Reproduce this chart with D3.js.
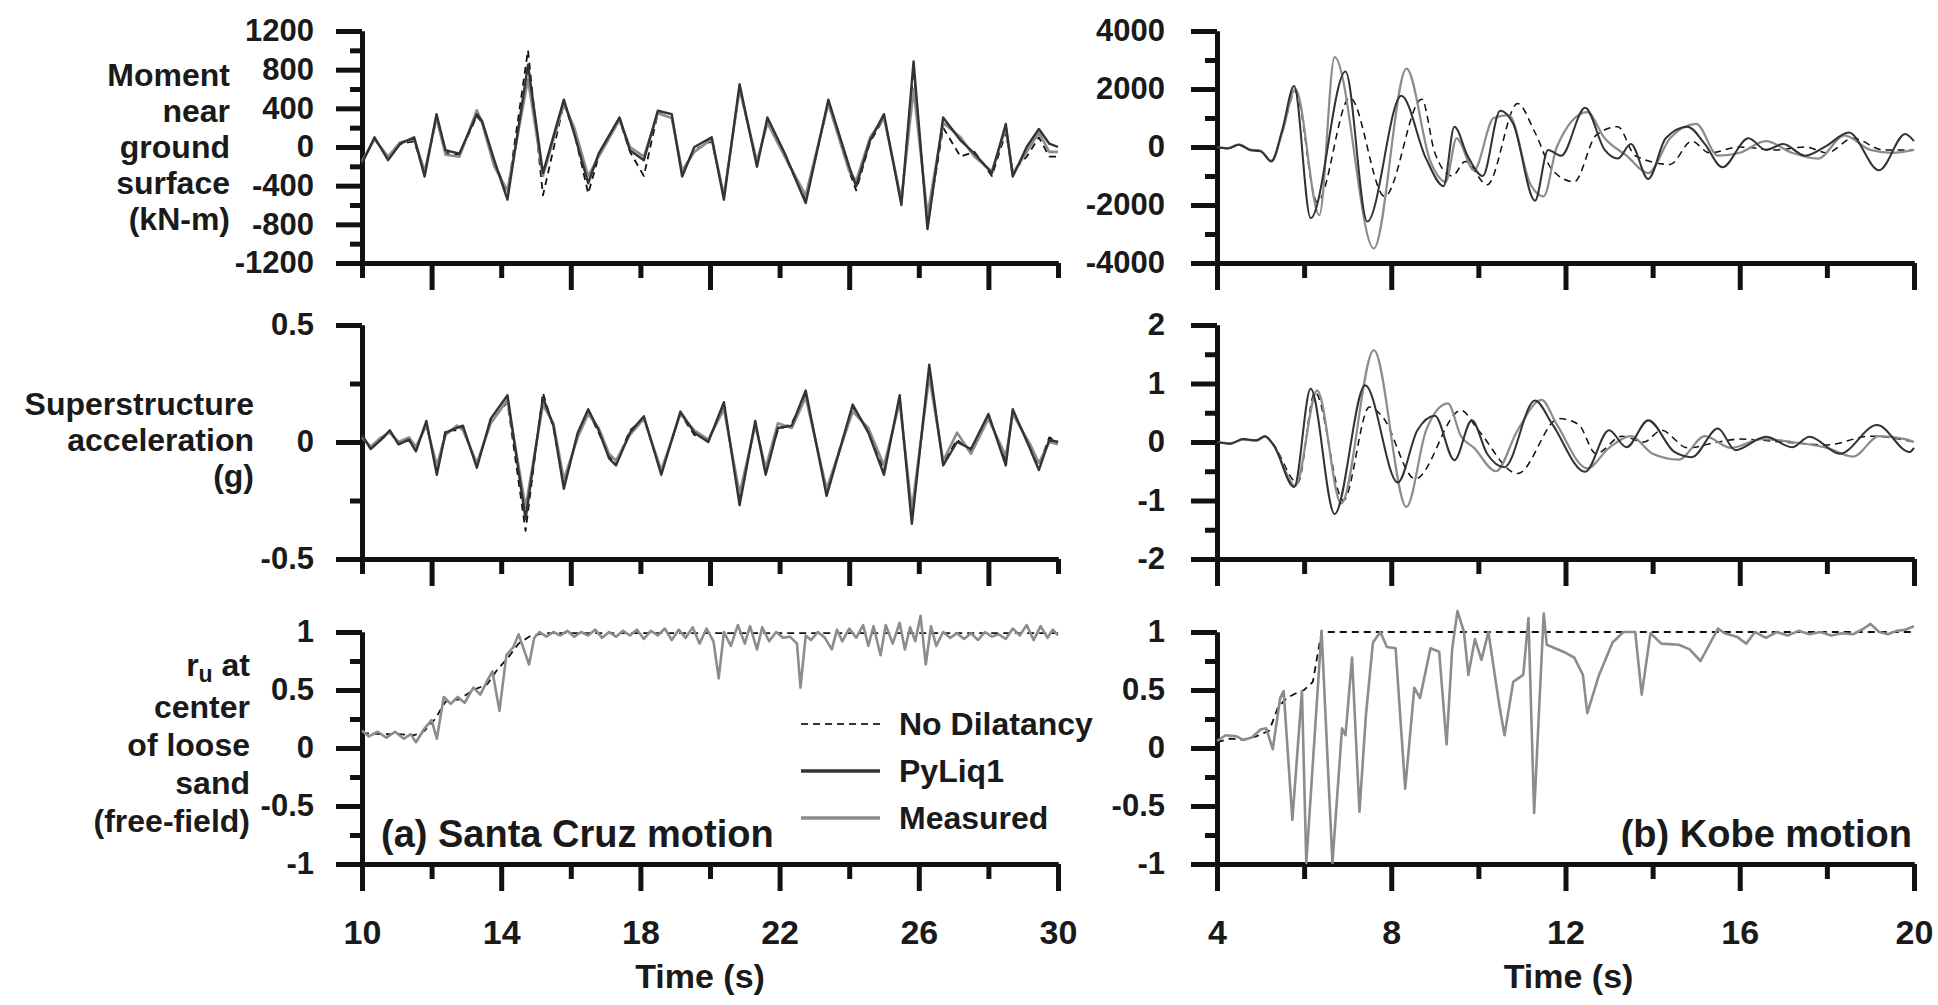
<!DOCTYPE html>
<html>
<head>
<meta charset="utf-8">
<script src="https://cdnjs.cloudflare.com/ajax/libs/d3/7.8.5/d3.min.js"></script>
<style>
    body { margin: 0; background: #fff; }
    svg { display: block; font-family: "Liberation Sans", Arial, sans-serif; font-weight: bold; }
    .axis .domain, .axis line { stroke: #111; stroke-width: 5px; }
    .axis text { fill: #1a1a1a; }
</style>
</head>
<body>
<div id="chart"></div>
<script>

/* * * * * * * * * * * * * *
*          DATA            *
* * * * * * * * * * * * * */

// (a) Santa Cruz - moment near ground surface (kN-m)
let scMomentTime = [10, 10.36, 10.75, 11.1, 11.5, 11.8, 12.14, 12.4, 12.8, 13.3, 13.45, 13.8, 14.18, 14.77, 15.2, 15.8, 16.1, 16.5, 16.8, 17.4,
    17.7, 18.1, 18.5, 18.9, 19.2, 19.55, 20.05, 20.4, 20.85, 21.35, 21.65, 22.15, 22.75, 23.4, 24.0, 24.2, 24.6, 25.0, 25.5, 25.85,
    26.25, 26.7, 27.2, 27.6, 28.1, 28.5, 28.7, 29.1, 29.45, 29.75, 30];
let scMomentPyLiq = [-170, 100, -136, 34, 100, -306, 340, -34, -68, 340, 270, -136, -545, 850, -270, 490, 136, -375, -68, 306,
    -34, -136, 375, 340, -306, 0, 100, -545, 650, -204, 306, -68, -580, 490, -204, -408, 68, 340, -600, 885,
    -850, 306, 68, -68, -272, 238, -306, 0, 187, 34, 0];
let scMomentMeas = [-150, 80, -100, 50, 80, -250, 300, -80, -100, 380, 250, -200, -450, 700, -300, 450, 200, -300, -100, 280,
    0, -100, 350, 300, -250, -50, 80, -500, 600, -150, 250, -100, -500, 450, -250, -350, 100, 300, -550, 600,
    -700, 250, 100, -100, -250, 200, -280, -50, 150, -50, -50];
let scMomentNoDil = [-150, 80, -100, 30, 60, -280, 300, -60, -80, 320, 250, -150, -480, 1000, -500, 450, 150, -480, -100, 280,
    -50, -300, 350, 300, -250, -30, 60, -500, 600, -180, 280, -100, -550, 450, -250, -450, 50, 300, -550, 800,
    -800, 200, -100, -50, -300, 150, -250, -100, 100, -100, -100];

// (a) Santa Cruz - superstructure acceleration (g)
let scAccTime = [10, 10.25, 10.55, 10.8, 11.05, 11.35, 11.55, 11.85, 12.15, 12.4, 12.73, 12.9, 13.3, 13.7, 14.18, 14.7, 15.2, 15.5, 15.8, 16.2,
    16.5, 16.8, 17.1, 17.3, 17.7, 18.1, 18.6, 19.15, 19.55, 19.95, 20.4, 20.85, 21.3, 21.6, 21.95, 22.35, 22.75, 23.35, 24.1, 24.55,
    25.0, 25.45, 25.8, 26.3, 26.7, 27.1, 27.5, 28.0, 28.5, 28.7, 29.2, 29.45, 29.75, 30];
let scAccPyLiq = [0.03, -0.03, 0.01, 0.05, -0.01, 0.01, -0.04, 0.09, -0.14, 0.04, 0.06, 0.07, -0.11, 0.1, 0.2, -0.33, 0.19, 0.07, -0.2, 0.04,
    0.14, 0.05, -0.07, -0.1, 0.04, 0.11, -0.14, 0.13, 0.04, 0, 0.17, -0.27, 0.09, -0.14, 0.06, 0.07, 0.22, -0.23, 0.16, 0.04,
    -0.14, 0.2, -0.35, 0.33, -0.1, 0, -0.03, 0.12, -0.1, 0.14, -0.03, -0.12, 0.01, 0];
let scAccMeas = [0.02, -0.02, 0.02, 0.04, 0.0, 0.02, -0.02, 0.07, -0.1, 0.03, 0.07, 0.05, -0.09, 0.08, 0.18, -0.28, 0.16, 0.08, -0.16, 0.02,
    0.12, 0.06, -0.05, -0.08, 0.03, 0.1, -0.12, 0.12, 0.05, 0.01, 0.14, -0.22, 0.07, -0.11, 0.08, 0.06, 0.19, -0.2, 0.13, 0.06,
    -0.1, 0.17, -0.29, 0.28, -0.08, 0.04, -0.05, 0.1, -0.06, 0.12, -0.01, -0.09, 0.0, -0.01];
let scAccNoDil = [0.02, -0.02, 0.01, 0.04, 0.0, 0.01, -0.03, 0.08, -0.12, 0.05, 0.05, 0.06, -0.1, 0.09, 0.17, -0.38, 0.21, 0.06, -0.18, 0.03,
    0.13, 0.04, -0.06, -0.09, 0.05, 0.1, -0.13, 0.12, 0.03, 0.01, 0.15, -0.25, 0.08, -0.12, 0.05, 0.08, 0.2, -0.21, 0.15, 0.05,
    -0.12, 0.18, -0.32, 0.3, -0.09, 0.01, -0.04, 0.11, -0.08, 0.13, -0.02, -0.1, 0.02, 0.0];

// (a) Santa Cruz - ru at center of loose sand, [time, ru]
let scRuMeas = [[10,0.15],[10.2,0.1],[10.45,0.14],[10.7,0.09],[10.95,0.14],[11.2,0.08],[11.4,0.12],[11.55,0.05],[11.8,0.17],[12.0,0.24],
    [12.15,0.08],[12.35,0.44],[12.55,0.38],[12.75,0.44],[12.95,0.39],[13.2,0.52],[13.4,0.46],[13.6,0.58],[13.75,0.66],[13.95,0.32],
    [14.15,0.8],[14.35,0.87],[14.5,0.98],[14.65,0.85],[14.8,0.72],[14.95,0.95],[15.1,1.0],[15.3,0.96],[15.5,1.0],[15.7,0.97],
    [15.9,1.01],[16.1,0.96],[16.3,1.0],[16.5,0.97],[16.7,1.02],[16.9,0.95],[17.1,1.0],[17.3,0.96],[17.5,1.01],[17.7,0.97],
    [17.9,1.02],[18.1,0.94],[18.3,1.01],[18.5,0.97],[18.7,1.03],[18.9,0.93],[19.1,1.02],[19.3,0.95],[19.5,1.04],[19.7,0.9],
    [19.9,1.03],[20.1,0.92],[20.25,0.6],[20.4,1.0],[20.6,0.88],[20.8,1.06],[21.0,0.9],[21.15,1.05],[21.35,0.85],[21.5,1.04],
    [21.7,0.92],[21.9,1.0],[22.1,0.95],[22.3,0.96],[22.5,0.9],[22.6,0.52],[22.75,0.97],[22.9,0.93],[23.1,1.0],[23.3,0.95],
    [23.5,0.85],[23.65,1.02],[23.8,0.92],[24.0,1.03],[24.2,0.95],[24.4,1.06],[24.55,0.88],[24.7,1.05],[24.9,0.8],[25.05,1.06],
    [25.25,0.9],[25.45,1.08],[25.6,0.85],[25.75,1.04],[25.9,0.92],[26.05,1.14],[26.2,0.72],[26.35,1.05],[26.5,0.88],[26.7,1.0],
    [26.9,0.95],[27.1,0.99],[27.3,0.94],[27.5,0.99],[27.7,0.93],[27.9,1.0],[28.1,0.96],[28.3,0.98],[28.5,0.94],[28.7,1.03],
    [28.9,0.97],[29.1,1.06],[29.3,0.93],[29.5,1.05],[29.7,0.95],[29.85,1.02],[30,0.97]];
let scRuNoDil = [[10,0.13],[10.5,0.12],[11,0.12],[11.5,0.11],[11.8,0.15],[12.1,0.25],[12.4,0.4],[12.8,0.42],[13.2,0.5],[13.6,0.55],
    [13.9,0.68],[14.2,0.78],[14.5,0.9],[14.8,0.96],[15.2,0.99],[30,0.99]];

// (b) Kobe - moment near ground surface, [time, kN-m]
let kbMomentPyLiq = [[4,0],[4.25,-50],[4.5,80],[4.75,-100],[5.0,-150],[5.25,-500],[5.5,600],[5.77,2100],[6.15,-2450],[6.95,2600],
    [7.45,-2570],[8.23,1770],[8.8,-400],[9.2,-1350],[9.45,700],[9.75,-300],[10.1,-1000],[10.5,1250],[10.8,800],[11.3,-1850],
    [11.6,-100],[11.9,-300],[12.45,1350],[12.9,-100],[13.2,-400],[13.5,100],[13.9,-1100],[14.3,300],[14.8,700],[15.2,100],
    [15.6,-700],[16.2,300],[16.6,-100],[17.0,100],[17.5,-300],[18.0,50],[18.5,500],[19.2,-800],[19.8,450],[20,200]];
let kbMomentMeas = [[4,0],[4.25,-40],[4.5,90],[4.75,-80],[5.0,-130],[5.25,-480],[5.5,500],[5.8,2000],[6.35,-2350],[6.7,3100],
    [7.6,-3500],[8.35,2700],[8.9,-500],[9.25,-1200],[9.5,300],[9.9,-800],[10.35,1000],[10.7,1100],[11.2,-1300],[11.5,-1700],
    [11.8,0],[12.5,1200],[12.9,300],[13.4,-300],[13.9,-900],[14.4,300],[15.0,800],[15.5,-300],[16.0,-200],[16.6,200],
    [17.2,-200],[17.8,-400],[18.4,400],[19.0,-100],[19.5,-200],[20,-100]];
let kbMomentNoDil = [[4,0],[4.25,-50],[4.5,70],[4.75,-90],[5.0,-140],[5.25,-450],[5.5,550],[5.8,1900],[6.3,-1900],[7.05,1700],
    [7.85,-1700],[8.7,1650],[9.0,-200],[9.4,-1000],[9.7,-500],[10.2,-1300],[10.9,1500],[11.3,500],[11.7,-800],[12.2,-1200],
    [12.7,400],[13.2,700],[13.6,-300],[14.4,-600],[14.9,200],[15.3,-200],[16,0],[16.8,-100],[17.5,0],[18.0,-200],
    [18.6,300],[19.3,-100],[20,-100]];

// (b) Kobe - superstructure acceleration, [time, g]
let kbAccPyLiq = [[4,0],[4.3,-0.03],[4.6,0.05],[4.9,0.03],[5.1,0.1],[5.3,-0.05],[5.77,-0.77],[6.15,0.91],[6.7,-1.23],[7.4,0.97],
    [8.15,-0.69],[8.6,0.2],[9.0,0.45],[9.45,-0.31],[9.85,0.37],[10.2,-0.2],[10.6,-0.43],[11.3,0.71],[11.7,0.3],[12.45,-0.51],
    [13.0,0.2],[13.4,-0.09],[13.9,0.37],[14.5,-0.17],[14.9,-0.26],[15.5,0.23],[15.9,-0.14],[16.6,0.09],[17.2,-0.09],[17.6,0.09],
    [18.3,-0.2],[19.15,0.29],[19.9,-0.17],[20,-0.1]];
let kbAccMeas = [[4,0],[4.3,-0.02],[4.6,0.04],[4.9,0.02],[5.1,0.09],[5.3,-0.06],[5.8,-0.75],[6.3,0.88],[6.85,-1.05],[7.6,1.57],
    [8.35,-1.11],[8.8,0.2],[9.3,0.66],[9.6,0.1],[9.9,-0.1],[10.4,-0.5],[10.9,0.2],[11.45,0.72],[11.8,0.3],[12.5,-0.45],
    [13.0,-0.1],[13.5,0.1],[14.0,-0.2],[14.6,-0.3],[15.2,0.1],[15.8,-0.1],[16.5,0.05],[17.2,0.0],[18.0,-0.1],[18.6,-0.25],
    [19.2,0.1],[19.8,0.05],[20,0.0]];
let kbAccNoDil = [[4,0],[4.3,-0.03],[4.6,0.05],[4.9,0.03],[5.1,0.1],[5.3,-0.05],[5.85,-0.7],[6.25,0.85],[6.9,-1.0],[7.5,0.6],
    [7.8,0.43],[8.55,-0.63],[9.6,0.54],[10.0,0.2],[10.9,-0.54],[11.85,0.4],[12.3,0.3],[12.7,-0.2],[13.3,0.1],[13.8,0.0],
    [14.2,0.2],[14.8,-0.1],[15.5,0.0],[16.0,0.05],[17,0.0],[18,-0.05],[19,0.1],[20,0.0]];

// (b) Kobe - ru, [time, ru]
let kbRuMeas = [[4.0,0.06],[4.2,0.11],[4.45,0.1],[4.6,0.07],[4.8,0.09],[5.0,0.16],[5.13,0.17],[5.28,-0.01],[5.45,0.43],[5.53,0.49],
    [5.73,-0.62],[5.95,0.49],[6.05,-0.99],[6.4,1.01],[6.65,-0.99],[6.87,0.17],[6.95,0.11],[7.1,0.78],[7.27,-0.55],[7.42,0.29],
    [7.58,0.91],[7.75,1.0],[7.9,0.87],[8.1,0.86],[8.32,-0.35],[8.53,0.52],[8.66,0.43],[8.9,0.86],[9.1,0.83],[9.27,0.03],
    [9.4,0.86],[9.52,1.18],[9.67,1.0],[9.77,0.63],[9.92,0.94],[10.07,0.76],[10.23,1.0],[10.48,0.37],[10.6,0.11],[10.8,0.57],
    [11.03,0.63],[11.15,1.12],[11.28,-0.56],[11.5,1.16],[11.57,0.89],[11.95,0.83],[12.2,0.78],[12.4,0.63],[12.5,0.3],[12.77,0.63],
    [13.08,0.91],[13.33,1.0],[13.6,1.0],[13.75,0.46],[13.95,0.99],[14.2,0.9],[14.6,0.89],[14.85,0.85],[15.1,0.75],[15.3,0.89],
    [15.5,1.03],[15.65,0.99],[15.93,0.96],[16.15,0.9],[16.35,1.0],[16.6,0.95],[16.85,1.0],[17.1,0.97],[17.35,1.01],[17.6,0.98],
    [17.85,1.0],[18.1,0.97],[18.35,0.99],[18.6,0.98],[18.85,1.03],[19.0,1.07],[19.2,1.0],[19.4,0.98],[19.6,1.01],[19.8,1.02],[20,1.05]];
let kbRuNoDil = [[4,0.05],[4.3,0.08],[4.6,0.07],[4.9,0.1],[5.2,0.15],[5.4,0.35],[5.6,0.43],[5.8,0.47],[6.0,0.5],[6.2,0.57],
    [6.4,1.0],[20,1.0]];

// tick values
let scTimeTicks = [10, 14, 18, 22, 26, 30];
let scTimeMinor = [12, 16, 20, 24, 28];
let kbTimeTicks = [4, 8, 12, 16, 20];
let kbTimeMinor = [6, 10, 14, 18];
let scMomentTicks = [1200, 800, 400, 0, -400, -800, -1200];
let scMomentMinor = [1000, 600, 200, -200, -600, -1000];
let kbMomentTicks = [4000, 2000, 0, -2000, -4000];
let kbMomentMinor = [3000, 1000, -1000, -3000];
let scAccTicks = [0.5, 0, -0.5];
let scAccMinor = [0.25, -0.25];
let kbAccTicks = [2, 1, 0, -1, -2];
let kbAccMinor = [1.5, 0.5, -0.5, -1.5];
let ruTicks = [1, 0.5, 0, -0.5, -1];
let ruMinor = [0.75, 0.25, -0.25, -0.75];

let legendNames = ["No Dilatancy", "PyLiq1", "Measured"];


/* * * * * * * * * * * * * *
*        TracePanel        *
* * * * * * * * * * * * * */

const STYLES = {
    noDil: {stroke: "#111", width: 1.8, dash: "7,5"},
    pyliq: {stroke: "#333", width: 2.4, dash: null},
    meas:  {stroke: "#8c8c8c", width: 2.6, dash: null}
};

class TracePanel {

    constructor(_svg, _cfg) {
        this.svg = _svg;
        this.cfg = _cfg;
        this.initVis();
    }

    initVis() {
        let vis = this;
        let c = vis.cfg;

        vis.g = vis.svg.append("g");

        vis.x = d3.scaleLinear().domain(c.xDomain).range([c.left, c.right]);
        vis.y = d3.scaleLinear().domain(c.yDomain).range([c.bottom, c.top]);

        // y axis: labelled major ticks + short minor ticks
        vis.g.append("g")
            .attr("class", "axis")
            .attr("transform", "translate(" + c.left + ",0)")
            .call(d3.axisLeft(vis.y).tickValues(c.yMinor).tickSize(12).tickSizeOuter(0).tickFormat(""));

        let yAxis = vis.g.append("g")
            .attr("class", "axis")
            .attr("transform", "translate(" + c.left + ",0)")
            .call(d3.axisLeft(vis.y).tickValues(c.yTicks).tickSize(26).tickSizeOuter(0)
                .tickPadding(c.yPad).tickFormat(d => String(d)));
        yAxis.selectAll("text").style("font-size", "31px");

        // x axis: long and short ticks
        let longTicks = c.longAtLabels ? c.xTicks : c.xMinor;
        let shortTicks = c.longAtLabels ? c.xMinor : c.xTicks;

        vis.g.append("g")
            .attr("class", "axis")
            .attr("transform", "translate(0," + c.bottom + ")")
            .call(d3.axisBottom(vis.x).tickValues(shortTicks).tickSize(15).tickSizeOuter(0).tickFormat(""));

        let xAxis = vis.g.append("g")
            .attr("class", "axis")
            .attr("transform", "translate(0," + c.bottom + ")")
            .call(d3.axisBottom(vis.x).tickValues(longTicks).tickSize(27).tickSizeOuter(0)
                .tickPadding(29).tickFormat(c.showXLabels ? (d => String(d)) : ""));
        xAxis.selectAll("text").style("font-size", "34px");

        if (c.showXLabels) {
            vis.g.append("text")
                .attr("x", (c.left + c.right) / 2 + c.titleShift)
                .attr("y", 988)
                .attr("text-anchor", "middle")
                .style("font-size", "34px")
                .attr("fill", "#1a1a1a")
                .text("Time (s)");
        }

        vis.line = d3.line()
            .x(d => vis.x(d[0]))
            .y(d => vis.y(d[1]))
            .curve(c.smooth ? d3.curveMonotoneX : d3.curveLinear);

        vis.updateVis();
    }

    updateVis() {
        let vis = this;

        vis.g.append("g")
            .selectAll("path")
            .data(vis.cfg.series)
            .join("path")
            .attr("d", s => vis.line(s.values))
            .attr("fill", "none")
            .attr("stroke", s => STYLES[s.kind].stroke)
            .attr("stroke-width", s => STYLES[s.kind].width * (vis.cfg.thin ? 0.85 : 1))
            .attr("stroke-dasharray", s => STYLES[s.kind].dash)
            .attr("stroke-linejoin", "round");
    }
}

function zipSeries(times, values) {
    return times.map((t, i) => [t, values[i]]);
}


/* * * * * * * * * * * * * *
*          LAYOUT          *
* * * * * * * * * * * * * */

let svg = d3.select("#chart").append("svg")
    .attr("width", 1938)
    .attr("height", 1005);

let rows = [{top: 31, bottom: 263}, {top: 325, bottom: 559}, {top: 632, bottom: 864}];
let colA = {left: 362, right: 1058, xDomain: [10, 30], xTicks: scTimeTicks, xMinor: scTimeMinor, yPad: 22, titleShift: -10};
let colB = {left: 1217, right: 1914, xDomain: [4, 20], xTicks: kbTimeTicks, xMinor: kbTimeMinor, yPad: 26, titleShift: 3};

new TracePanel(svg, Object.assign({}, colA, rows[0], {
    yDomain: [-1200, 1200], yTicks: scMomentTicks, yMinor: scMomentMinor, longAtLabels: false,
    series: [
        {kind: "noDil", values: zipSeries(scMomentTime, scMomentNoDil)},
        {kind: "meas", values: zipSeries(scMomentTime, scMomentMeas)},
        {kind: "pyliq", values: zipSeries(scMomentTime, scMomentPyLiq)}
    ]
}));

new TracePanel(svg, Object.assign({}, colA, rows[1], {
    yDomain: [-0.5, 0.5], yTicks: scAccTicks, yMinor: scAccMinor, longAtLabels: false,
    series: [
        {kind: "noDil", values: zipSeries(scAccTime, scAccNoDil)},
        {kind: "meas", values: zipSeries(scAccTime, scAccMeas)},
        {kind: "pyliq", values: zipSeries(scAccTime, scAccPyLiq)}
    ]
}));

new TracePanel(svg, Object.assign({}, colA, rows[2], {
    yDomain: [-1, 1], yTicks: ruTicks, yMinor: ruMinor, longAtLabels: true, showXLabels: true,
    series: [
        {kind: "noDil", values: scRuNoDil},
        {kind: "meas", values: scRuMeas}
    ]
}));

new TracePanel(svg, Object.assign({}, colB, rows[0], {
    yDomain: [-4000, 4000], yTicks: kbMomentTicks, yMinor: kbMomentMinor, longAtLabels: true, smooth: true, thin: true,
    series: [
        {kind: "noDil", values: kbMomentNoDil},
        {kind: "meas", values: kbMomentMeas},
        {kind: "pyliq", values: kbMomentPyLiq}
    ]
}));

new TracePanel(svg, Object.assign({}, colB, rows[1], {
    yDomain: [-2, 2], yTicks: kbAccTicks, yMinor: kbAccMinor, longAtLabels: true, smooth: true, thin: true,
    series: [
        {kind: "noDil", values: kbAccNoDil},
        {kind: "meas", values: kbAccMeas},
        {kind: "pyliq", values: kbAccPyLiq}
    ]
}));

new TracePanel(svg, Object.assign({}, colB, rows[2], {
    yDomain: [-1, 1], yTicks: ruTicks, yMinor: ruMinor, longAtLabels: true, showXLabels: true,
    series: [
        {kind: "noDil", values: kbRuNoDil},
        {kind: "meas", values: kbRuMeas}
    ]
}));


/* * * * * * * * * * * * * *
*     TITLES AND LEGEND    *
* * * * * * * * * * * * * */

// one text element per line, right aligned
function stackedLabel(lines, xRight, yFirst, step) {
    lines.forEach((l, i) => {
        svg.append("text")
            .attr("x", xRight)
            .attr("y", yFirst + i * step)
            .attr("text-anchor", "end")
            .attr("fill", "#1a1a1a")
            .style("font-size", "32px")
            .text(l);
    });
}

stackedLabel(["Moment", "near", "ground", "surface", "(kN-m)"], 230, 86, 36);
stackedLabel(["Superstructure", "acceleration", "(g)"], 254, 415, 36);

// r_u label with subscript
let ru = svg.append("text")
    .attr("text-anchor", "end")
    .attr("fill", "#1a1a1a")
    .style("font-size", "32px")
    .attr("x", 250).attr("y", 676);
ru.append("tspan").text("r");
ru.append("tspan").attr("dy", 6).style("font-size", "23px").text("u");
ru.append("tspan").attr("dy", -6).text(" at");
stackedLabel(["center", "of loose", "sand", "(free-field)"], 250, 718, 38);

svg.append("text")
    .attr("x", 381).attr("y", 847)
    .attr("fill", "#1a1a1a")
    .style("font-size", "38px")
    .text("(a) Santa Cruz motion");

svg.append("text")
    .attr("x", 1912).attr("y", 847)
    .attr("text-anchor", "end")
    .attr("fill", "#1a1a1a")
    .style("font-size", "38px")
    .text("(b) Kobe motion");

let legendKinds = ["noDil", "pyliq", "meas"];
let legend = svg.append("g").attr("transform", "translate(801,724)");
legendKinds.forEach((k, i) => {
    let row = legend.append("g").attr("transform", "translate(0," + (i * 47) + ")");
    row.append("line")
        .attr("x1", 0).attr("x2", 79)
        .attr("stroke", k === "noDil" ? "#333" : STYLES[k].stroke)
        .attr("stroke-width", k === "noDil" ? 2.2 : 3.5)
        .attr("stroke-dasharray", STYLES[k].dash);
    row.append("text")
        .attr("x", 98).attr("y", 11)
        .attr("fill", "#1a1a1a")
        .style("font-size", "32px")
        .text(legendNames[i]);
});

</script>
</body>
</html>
